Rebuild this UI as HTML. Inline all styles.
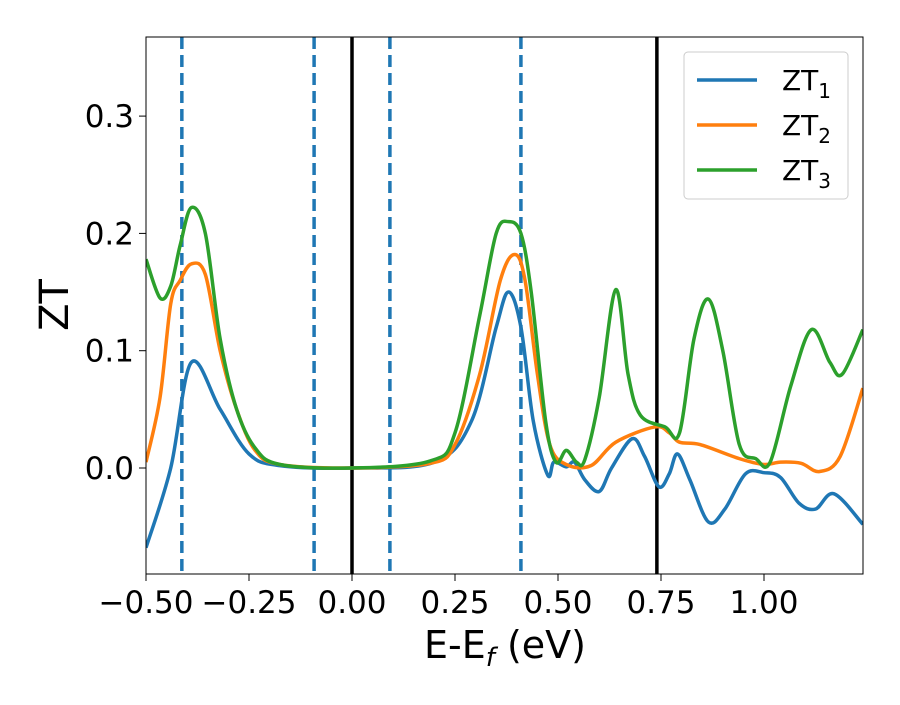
<!DOCTYPE html>
<html><head><meta charset="utf-8"><style>
body{margin:0;background:#fff}
svg{font-family:"DejaVu Sans","Liberation Sans",sans-serif}
</style></head><body>
<svg id="chart" width="900" height="700">
<defs><clipPath id="clip"><rect x="146" y="37" width="717" height="537"/></clipPath></defs>
<g id="plot" clip-path="url(#clip)"></g>
<rect x="146" y="37" width="717" height="537" fill="none" stroke="#000" stroke-width="1"/>
<g id="xt"></g>
<g id="yt"></g>
<text x="505" y="658" font-size="38" text-anchor="middle">E-E<tspan font-style="italic" font-size="26" dy="8">f</tspan><tspan dy="-8"> (eV)</tspan></text>
<text x="0" y="0" font-size="40" text-anchor="middle" transform="translate(68,305) rotate(-90)">ZT</text>
<g>
<rect x="684" y="52" width="164" height="147" rx="4" fill="#fff" fill-opacity="0.8" stroke="#ccc"/>
<g id="leg"></g>
</g>
</svg>
<script>
const xTicks=[-0.5,-0.25,0,0.25,0.5,0.75,1.0];
const xTickLabels=["\u22120.50","\u22120.25","0.00","0.25","0.50","0.75","1.00"];
const yTicks=[0,0.1,0.2,0.3];
const yTickLabels=["0.0","0.1","0.2","0.3"];
const dashedLines=[-0.413,-0.092,0.092,0.41];
const solidLines=[0,0.74];
const zt1X=[-0.5,-0.44,-0.39,-0.32,-0.25,-0.175,0.0,0.2,0.29,0.35,0.38,0.41,0.44,0.475,0.49,0.52,0.54,0.565,0.6,0.63,0.68,0.71,0.745,0.77,0.79,0.82,0.865,0.905,0.955,1.0,1.04,1.085,1.125,1.17,1.24];
const zt1Y=[-0.068,0.0,0.09,0.05,0.012,0.002,0.0,0.005,0.04,0.12,0.15,0.12,0.04,-0.006,0.005,0.001,0.005,-0.01,-0.02,0.0,0.025,0.01,-0.016,-0.005,0.012,-0.01,-0.046,-0.035,-0.005,-0.004,-0.008,-0.03,-0.035,-0.022,-0.048];
const zt2X=[-0.5,-0.466,-0.44,-0.417,-0.39,-0.356,-0.32,-0.28,-0.235,-0.175,0.0,0.19,0.25,0.31,0.36,0.395,0.42,0.45,0.48,0.52,0.58,0.64,0.735,0.77,0.795,0.845,0.94,1.0,1.04,1.09,1.135,1.185,1.24];
const zt2Y=[0.005,0.06,0.14,0.16,0.174,0.165,0.1,0.05,0.015,0.003,0.0,0.004,0.02,0.08,0.16,0.182,0.16,0.08,0.02,0.003,0.002,0.022,0.035,0.03,0.022,0.02,0.008,0.003,0.005,0.004,-0.003,0.01,0.068];
const zt3X=[-0.5,-0.466,-0.44,-0.417,-0.39,-0.356,-0.32,-0.28,-0.235,-0.175,0.0,0.19,0.25,0.31,0.35,0.38,0.41,0.435,0.47,0.495,0.52,0.545,0.565,0.6,0.64,0.67,0.7,0.76,0.795,0.83,0.865,0.9,0.94,0.98,1.015,1.065,1.115,1.16,1.19,1.24];
const zt3Y=[0.178,0.145,0.155,0.19,0.222,0.2,0.11,0.05,0.017,0.003,0.0,0.006,0.03,0.13,0.2,0.21,0.2,0.15,0.04,0.005,0.015,0.005,0.007,0.06,0.152,0.08,0.045,0.035,0.03,0.11,0.144,0.1,0.02,0.008,0.005,0.07,0.118,0.09,0.08,0.118];
const series=[["zt-1",zt1X,zt1Y,"#1f77b4"],["zt-2",zt2X,zt2Y,"#ff7f0e"],["zt-3",zt3X,zt3Y,"#2ca02c"]];
const X=v=>352+(v-0)*412, Y=v=>468-v*1173;
const NS="http://www.w3.org/2000/svg";
function mk(t,a,p){const e=document.createElementNS(NS,t);for(const k in a)e.setAttribute(k,a[k]);p.appendChild(e);return e;}
const plot=document.getElementById('plot');
dashedLines.forEach(v=>{const l=mk('line',{x1:X(v),x2:X(v),y1:37,y2:574,stroke:'#1f77b4','stroke-width':3.5,'stroke-dasharray':'12,6'},plot);

});
solidLines.forEach(v=>{const l=mk('line',{x1:X(v),x2:X(v),y1:37,y2:574,stroke:'#000','stroke-width':3.5},plot);

});
function path(xs,ys){const p=xs.map((x,i)=>[X(x),Y(ys[i])]);let d=`M${p[0][0]},${p[0][1]}`;
for(let i=0;i<p.length-1;i++){const p0=p[Math.max(0,i-1)],p1=p[i],p2=p[i+1],p3=p[Math.min(p.length-1,i+2)];
d+=` C${p1[0]+(p2[0]-p0[0])/6},${p1[1]+(p2[1]-p0[1])/6} ${p2[0]-(p3[0]-p1[0])/6},${p2[1]-(p3[1]-p1[1])/6} ${p2[0]},${p2[1]}`;}return d;}
series.forEach(s=>{const e=mk('path',{d:path(s[1],s[2]),fill:'none',stroke:s[3],'stroke-width':3.5,'stroke-linejoin':'round'},plot);

});
const xt=document.getElementById('xt');
xTicks.forEach((v,i)=>{mk('line',{x1:X(v),x2:X(v),y1:574,y2:581,stroke:'#000'},xt);
const t=mk('text',{x:X(v),y:613,'font-size':31,'text-anchor':'middle'},xt);t.textContent=xTickLabels[i];

});
const yt=document.getElementById('yt');
yTicks.forEach((v,i)=>{mk('line',{x1:139,x2:146,y1:Y(v),y2:Y(v),stroke:'#000'},yt);
const t=mk('text',{x:134,y:Y(v)+11,'font-size':31,'text-anchor':'end'},yt);t.textContent=yTickLabels[i];

});
const leg=document.getElementById('leg');
series.forEach((s,i)=>{const y=80+i*45;
mk('line',{x1:697,x2:757,y1:y,y2:y,stroke:s[3],'stroke-width':3.5},leg);
const t=mk('text',{x:782,y:y+10,'font-size':28},leg);
t.innerHTML='ZT<tspan font-size="20" dy="8">'+(i+1)+'</tspan>';

});
</script>
</body></html>
